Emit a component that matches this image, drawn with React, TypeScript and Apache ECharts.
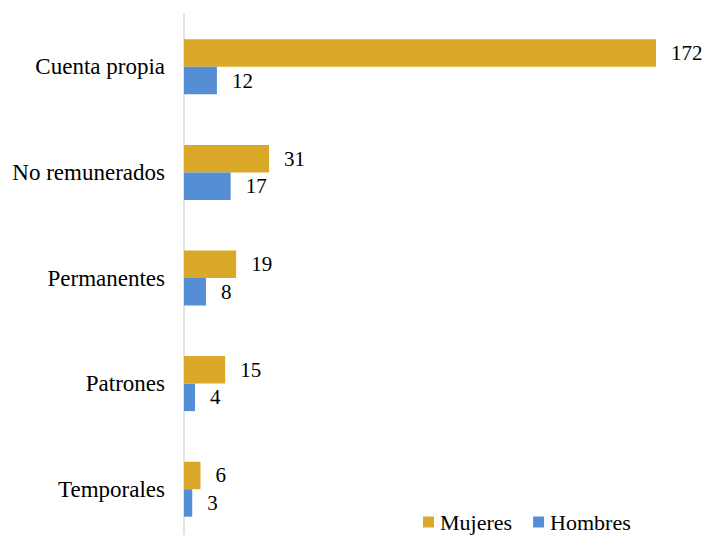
import React, { useEffect, useRef } from "react";
import * as echarts from "echarts";

const categories = ["Cuenta propia", "No remunerados", "Permanentes", "Patrones", "Temporales"];
const mujeres = [172, 31, 19, 15, 6];
const hombres = [12, 17, 8, 4, 3];

const FONT = "Liberation Serif";

export default function App() {
  const ref = useRef<HTMLDivElement>(null);
  useEffect(() => {
    if (!ref.current) return;
    const chart = echarts.init(ref.current, null, { renderer: "svg" });
    chart.setOption({
      animation: false,
      backgroundColor: "#ffffff",
      textStyle: { fontFamily: FONT },
      grid: {
        left: 184,
        top: 14,
        width: 472,
        height: 528,
        containLabel: false,
        outerBoundsMode: "none",
      },
      legend: {
        data: ["Mujeres", "Hombres"],
        left: 423,
        top: 511,
        padding: 0,
        icon: "rect",
        itemWidth: 11,
        itemHeight: 11,
        itemGap: 21,
        textStyle: { fontFamily: FONT, fontSize: 22, color: "#000", padding: [0, 0, 0, 1] },
      },
      xAxis: {
        type: "value",
        min: 0,
        max: 172,
        show: false,
      },
      yAxis: {
        type: "category",
        data: categories,
        inverse: true,
        axisLine: { show: true, lineStyle: { color: "#d9d9d9", width: 1.5 } },
        axisTick: { show: false },
        axisLabel: { fontFamily: FONT, fontSize: 23, color: "#000", margin: 19 },
        splitLine: { show: false },
      },
      series: [
        {
          name: "Mujeres",
          type: "bar",
          data: mujeres,
          barWidth: 27.5,
          barGap: "0%",
          itemStyle: { color: "#DAA92A" },
          label: { show: true, position: "right", distance: 15, fontFamily: FONT, fontSize: 21, color: "#000" },
        },
        {
          name: "Hombres",
          type: "bar",
          data: hombres,
          barWidth: 27.5,
          barGap: "0%",
          itemStyle: { color: "#558ED5" },
          label: { show: true, position: "right", distance: 15, fontFamily: FONT, fontSize: 21, color: "#000" },
        },
      ],
    });
    return () => chart.dispose();
  }, []);
  return (
    <div
      ref={ref}
      style={{ position: "fixed", left: 0, top: 0, width: 707, height: 535, background: "#fff" }}
    />
  );
}
